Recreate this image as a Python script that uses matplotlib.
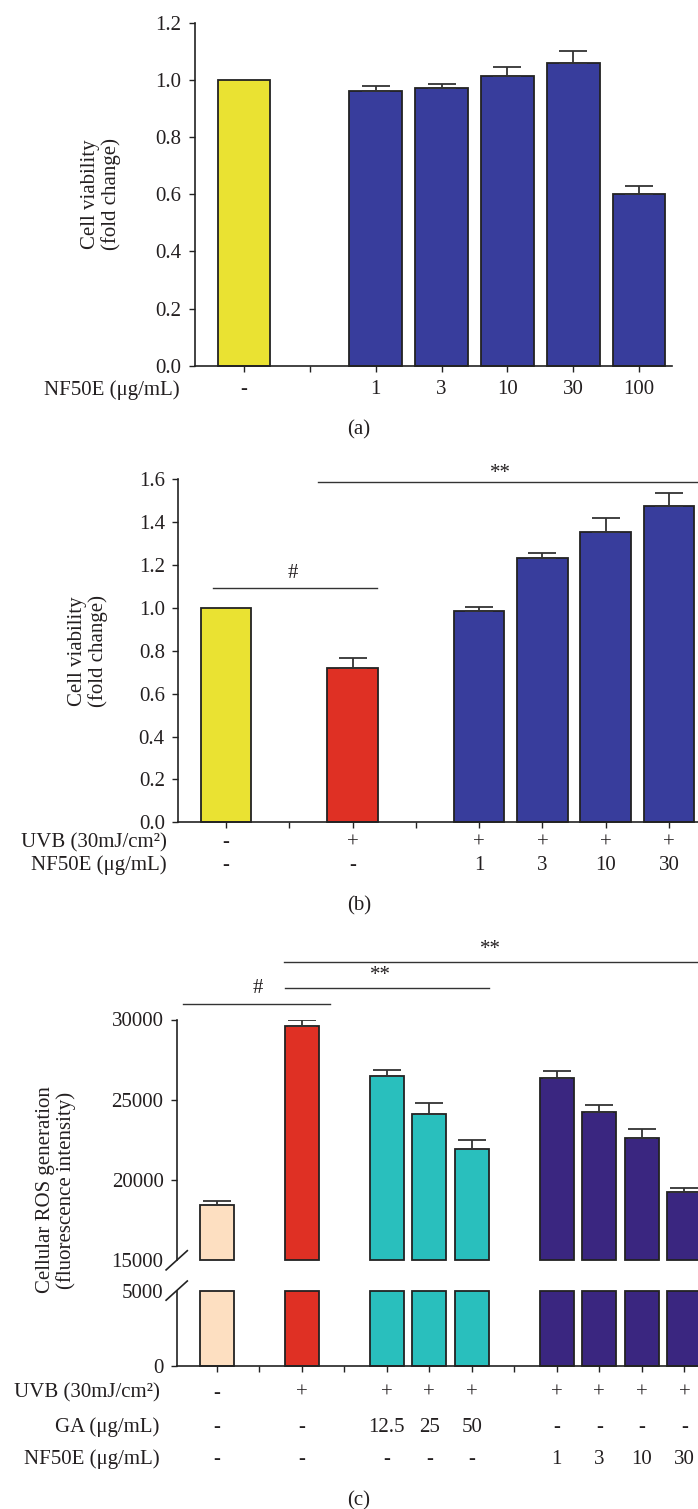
import numpy as np
import matplotlib
matplotlib.use("Agg")
import matplotlib.pyplot as plt

plt.rcParams["font.family"] = ["Liberation Serif", "DejaVu Serif"]
plt.rcParams["font.size"] = 15
plt.rcParams["axes.unicode_minus"] = False

FS = 15
TXT = "#231F20"
EDGE = "#222222"
YELLOW, BLUE, RED = "#EAE232", "#383D9C", "#DF3024"
PEACH, TEAL, PURPLE = "#FDDFC1", "#29BFBD", "#3A2680"

# ---- panel (a) ----
a_nf50e = ["-", "", "1", "3", "10", "30", "100"]
a_values = [1.0, np.nan, 0.962, 0.970, 1.013, 1.060, 0.602]
a_errors = [0.0, np.nan, 0.018, 0.014, 0.031, 0.042, 0.028]
a_colors = [YELLOW, None, BLUE, BLUE, BLUE, BLUE, BLUE]

# ---- panel (b) ----
b_uvb = ["-", "", "+", "", "+", "+", "+", "+"]
b_nf50e = ["-", "", "-", "", "1", "3", "10", "30"]
b_values = [1.0, np.nan, 0.718, np.nan, 0.986, 1.235, 1.356, 1.477]
b_errors = [0.0, np.nan, 0.049, np.nan, 0.020, 0.023, 0.064, 0.061]
b_colors = [YELLOW, None, RED, None, BLUE, BLUE, BLUE, BLUE]

# ---- panel (c) ----
c_uvb = ["-", "", "+", "", "+", "+", "+", "", "+", "+", "+", "+"]
c_ga = ["-", "", "-", "", "12.5", "25", "50", "", "-", "-", "-", "-"]
c_nf50e = ["-", "", "-", "", "-", "-", "-", "", "1", "3", "10", "30"]
c_values = [18456, np.nan, 29585, np.nan, 26452, 24124, 21935, np.nan,
            26336, 24217, 22604, 19263]
c_errors = [208, np.nan, 415, np.nan, 414, 669, 553, np.nan,
            438, 460, 576, 253]
c_colors = [PEACH, None, RED, None, TEAL, TEAL, TEAL, None,
            PURPLE, PURPLE, PURPLE, PURPLE]

W, H = 698, 1509
fig = plt.figure(figsize=(W / 100, H / 100), dpi=100)


def px_axes(left, top, right, bottom):
    return fig.add_axes([left / W, 1 - bottom / H, (right - left) / W, (bottom - top) / H])


def style(ax):
    for s in ["top", "right"]:
        ax.spines[s].set_visible(False)
    for s in ["left", "bottom"]:
        ax.spines[s].set_linewidth(1.2)
        ax.spines[s].set_color(EDGE)
    ax.tick_params(axis="both", direction="out", length=4.5, width=1.0,
                   color=EDGE, labelcolor=TXT, labelsize=FS)
    ax.tick_params(axis="y", pad=5)


def draw_bars(ax, values, errors, colors, bottom=0.0, top=None):
    x = np.arange(len(values))
    for xi, v, e, c in zip(x, values, errors, colors):
        if np.isnan(v):
            continue
        hi = v if top is None else min(v, top)
        ax.bar(xi, hi - bottom, bottom=bottom, width=0.8, color=c,
               edgecolor=EDGE, linewidth=1.3, clip_on=False, zorder=2)
        if top is None and e > 0:
            ax.errorbar(xi, v, yerr=[[0], [e]], fmt="none", ecolor="#333333",
                        elinewidth=1.3, capsize=10, capthick=1.3, zorder=3)


def rows(ax, labels_list, offsets, names, name_x):
    for labels, off, name in zip(labels_list, offsets, names):
        for xi, lab in enumerate(labels):
            if lab:
                ax.annotate(lab, xy=(xi, 0), xycoords=ax.get_xaxis_transform(),
                            xytext=(0, -off), textcoords="offset pixels",
                            ha="center", va="center", color=TXT, fontsize=FS)
        fig.text(name_x / W, 1 - (ax_bottom_px[ax] + off) / H, name,
                 ha="right", va="center", color=TXT, fontsize=FS)


def bracket(ax, x0, x1, y, label, tx, ty):
    ax.plot([x0, x1], [y, y], color="#333333", lw=1.0, clip_on=False)
    ax.text(tx, ty, label, ha="center", va="center", color=TXT, fontsize=FS,
            clip_on=False)


ax_bottom_px = {}

# ================= (a) =================
ax = px_axes(194.6, 22.7, 672, 365.7)
ax_bottom_px[ax] = 365.7
style(ax)
draw_bars(ax, a_values, a_errors, a_colors)
ax.set_xlim(-0.75, 6.5)
ax.set_ylim(0, 1.2)
ax.set_yticks(np.arange(0, 1.21, 0.2))
ax.set_yticklabels([f"{v:.1f}" for v in np.arange(0, 1.21, 0.2)])
ax.set_xticks(np.arange(len(a_values)))
ax.set_xticklabels([])
rows(ax, [a_nf50e], [24], ["NF50E (μg/mL)"], 180)
fig.text(101 / W, 1 - 194 / H, "Cell viability\n(fold change)", rotation=90,
         ha="center", va="center", color=TXT, fontsize=FS, linespacing=1.1)
fig.text(359 / W, 1 - 430 / H, "(a)", ha="center", va="center", color=TXT, fontsize=FS)

# ================= (b) =================
ax = px_axes(178, 479.3, 698, 822.3)
ax_bottom_px[ax] = 822.3
style(ax)
draw_bars(ax, b_values, b_errors, b_colors)
ax.set_xlim(-0.76, 7.46)
ax.set_ylim(0, 1.6)
ax.set_yticks(np.arange(0, 1.61, 0.2))
ax.set_yticklabels([f"{v:.1f}" for v in np.arange(0, 1.61, 0.2)])
ax.set_xticks(np.arange(len(b_values)))
ax.set_xticklabels([])
rows(ax, [b_uvb, b_nf50e], [20.5, 42.7],
     ["UVB (30mJ/cm²)", "NF50E (μg/mL)"], 167)
bracket(ax, -0.21, 2.38, 1.095, "#", 1.05, 1.162)
bracket(ax, 1.45, 7.46, 1.588, "**", 4.34, 1.625)
fig.text(88 / W, 1 - 651 / H, "Cell viability\n(fold change)", rotation=90,
         ha="center", va="center", color=TXT, fontsize=FS, linespacing=1.1)
fig.text(359 / W, 1 - 906 / H, "(b)", ha="center", va="center", color=TXT, fontsize=FS)

# ================= (c) broken axis =================
ax_top = px_axes(176.7, 1019.5, 698, 1260.3)
ax_low = px_axes(176.7, 1290.6, 698, 1366.4)
ax_bottom_px[ax_low] = 1366.4
for a in (ax_top, ax_low):
    style(a)
    a.set_xlim(-0.94, 11.32)
ax_top.spines["bottom"].set_visible(False)
ax_top.tick_params(axis="x", bottom=False, labelbottom=False)
ax_top.set_ylim(15000, 30000)
ax_top.set_yticks([15000, 20000, 25000, 30000])
ax_low.set_ylim(0, 5000)
ax_low.set_yticks([0, 5000])
ax_low.set_xticks(np.arange(len(c_values)))
ax_low.set_xticklabels([])
ax_top.yaxis.get_major_ticks()[0].tick1line.set_visible(False)
ax_low.yaxis.get_major_ticks()[-1].tick1line.set_visible(False)

draw_bars(ax_top, c_values, c_errors, c_colors, bottom=15000)
draw_bars(ax_low, c_values, c_errors, c_colors, bottom=0, top=5000)

# break marks on the y axis
for a, yc in ((ax_top, 0.0), (ax_low, 1.0)):
    h_px = a.get_position().height * H
    w_px = a.get_position().width * W
    dx, dy = 10.6 / w_px, 9.6 / h_px
    a.plot([-dx, dx], [yc - dy, yc + dy], transform=a.transAxes,
           color=EDGE, lw=1.2, clip_on=False)

bracket(ax_top, -0.79, 2.67, 30968, "#", 0.97, 31935)
bracket(ax_top, 1.60, 6.40, 31958, "**", 3.86, 32750)
bracket(ax_top, 1.58, 11.32, 33571, "**", 6.45, 34330)

rows(ax_low, [c_uvb, c_ga, c_nf50e], [26.6, 61, 93.2],
     ["UVB (30mJ/cm²)", "GA (μg/mL)", "NF50E (μg/mL)"], 159.4)
fig.text(56 / W, 1 - 1190 / H, "Cellular ROS generation\n(fluorescence intensity)",
         rotation=90, ha="center", va="center", color=TXT, fontsize=FS,
         linespacing=1.1)
fig.text(359 / W, 1 - 1501 / H, "(c)", ha="center", va="center", color=TXT, fontsize=FS)

fig.savefig("out.png", dpi=100)
